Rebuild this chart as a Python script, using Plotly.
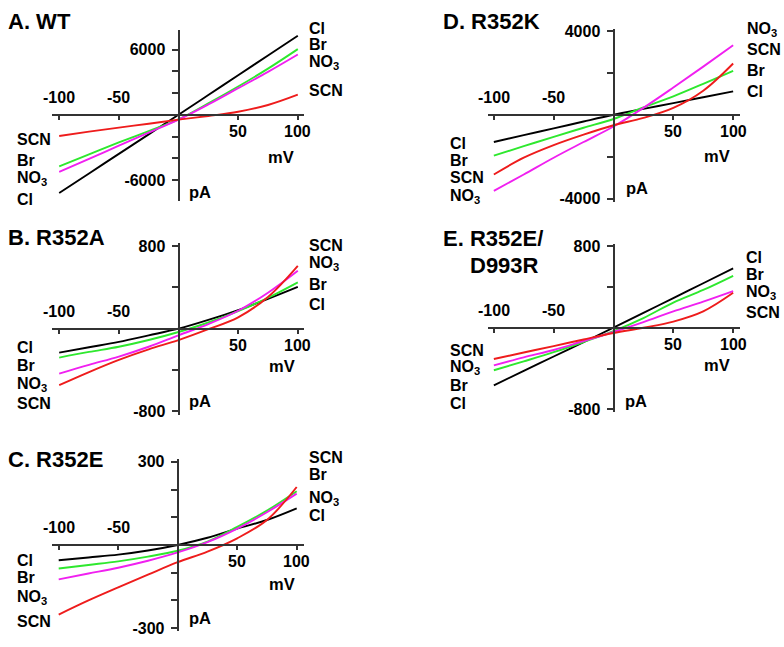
import plotly.graph_objects as go

W, H = 784, 647

# ---------------- data ----------------
voltage_mV = [-100, -75, -50, -25, 0, 25, 50, 75, 100]
ions = ["Cl", "Br", "NO3", "SCN"]

wt_Cl = [-7200, -5400, -3600, -1800, 0, 1820, 3640, 5460, 7280]
wt_Br = [-4750, -3650, -2550, -1500, -420, 1050, 2600, 4250, 6050]
wt_NO3 = [-5250, -4050, -2850, -1650, -450, 950, 2450, 3950, 5550]
wt_SCN = [-1950, -1550, -1180, -820, -450, -110, 280, 900, 1850]

r352a_Cl = [-232, -180, -128, -65, 0, 85, 181, 290, 406]
r352a_Br = [-280, -225, -175, -110, -32, 60, 171, 300, 450]
r352a_NO3 = [-435, -350, -270, -175, -64, 45, 174, 349, 562]
r352a_SCN = [-547, -420, -302, -200, -111, -5, 110, 308, 610]

r352e_Cl = [-55, -45, -35, -20, 0, 26, 59, 90, 132]
r352e_Br = [-85, -72, -59, -42, -21, 12, 65, 124, 194]
r352e_NO3 = [-124, -103, -82, -57, -27, 10, 59, 118, 185]
r352e_SCN = [-251, -200, -153, -107, -62, -24, 24, 90, 209]

r352k_Cl = [-1300, -970, -650, -320, 0, 280, 560, 840, 1120]
r352k_Br = [-1950, -1500, -1050, -620, -200, 350, 880, 1480, 2100]
r352k_NO3 = [-3630, -2850, -2050, -1300, -560, 330, 1300, 2300, 3320]
r352k_SCN = [-2850, -2050, -1450, -950, -500, -150, 330, 1150, 2450]

r352e_d993r_Cl = [-564, -423, -282, -141, 0, 145, 291, 436, 582]
r352e_d993r_Br = [-417, -330, -240, -140, -33, 95, 246, 370, 509]
r352e_d993r_NO3 = [-369, -290, -218, -130, -42, 55, 160, 255, 358]
r352e_d993r_SCN = [-307, -243, -180, -115, -52, 0, 60, 160, 342]

x_tick_vals = [-100, -50, 50, 100]
panel_titles = ["A. WT", "B. R352A", "C. R352E", "D. R352K", "E. R352E/", "D993R"]

# ---------------- styling ----------------
colors = {"Cl": "#000000", "Br": "#2ee82e", "NO3": "#f020f0", "SCN": "#ee1c1c"}
label_text = {"Cl": "Cl", "Br": "Br", "NO3": "NO<sub>3</sub>", "SCN": "SCN"}
FONT = "Arial, Liberation Sans, sans-serif"
AX = "#333333"

panels = [
    dict(name="A", data=dict(Cl=wt_Cl, Br=wt_Br, NO3=wt_NO3, SCN=wt_SCN),
         x0=178.5, y0=110, sx=1.193, sy=66.5 / 6000, xl=52, xr=304, yt=23, yb=198,
         dtick=2000, lab=6000,
         right=[("Cl", 21.7), ("Br", 38.3), ("NO3", 56.5), ("SCN", 85)], rx=306.7,
         left=[("SCN", 135), ("Br", 156.7), ("NO3", 175.5), ("Cl", 196)], lx=15,
         mv=(280.8, 152.7), pa=(200.3, 188.3)),
    dict(name="B", data=dict(Cl=r352a_Cl, Br=r352a_Br, NO3=r352a_NO3, SCN=r352a_SCN),
         x0=178.5, y0=328.3, sx=1.193, sy=84.2 / 800, xl=52, xr=304, yt=240.7, yb=416.7,
         dtick=400, lab=800,
         right=[("SCN", 243.3), ("NO3", 261.5), ("Br", 283.3), ("Cl", 303.3)], rx=306.7,
         left=[("Cl", 347.7), ("Br", 365.7), ("NO3", 385.5), ("SCN", 405)], lx=15,
         mv=(281.7, 366.7), pa=(200, 401.7)),
    dict(name="C", data=dict(Cl=r352e_Cl, Br=r352e_Br, NO3=r352e_NO3, SCN=r352e_SCN),
         x0=177.7, y0=549, sx=1.19, sy=28.3 / 100, xl=51.7, xr=304, yt=461.7, yb=636.7,
         dtick=100, lab=300,
         right=[("SCN", 459.3), ("Br", 476.7), ("NO3", 501.5), ("Cl", 519.3)], rx=306.7,
         left=[("Cl", 565), ("Br", 582.3), ("NO3", 603), ("SCN", 626.7)], lx=15,
         mv=(281.7, 589.3), pa=(200, 623.3)),
    dict(name="D", data=dict(Cl=r352k_Cl, Br=r352k_Br, NO3=r352k_NO3, SCN=r352k_SCN),
         x0=613.5, y0=110, sx=1.1965, sy=85.5 / 4000, xl=488, xr=740.3, yt=22.7, yb=199,
         dtick=2000, lab=4000,
         right=[("NO3", 23), ("SCN", 43.3), ("Br", 65), ("Cl", 86)], rx=745.3,
         left=[("Cl", 139.3), ("Br", 156.7), ("SCN", 174), ("NO3", 193)], lx=448,
         mv=(717.3, 151.7), pa=(636.7, 185)),
    dict(name="E", data=dict(Cl=r352e_d993r_Cl, Br=r352e_d993r_Br, NO3=r352e_d993r_NO3, SCN=r352e_d993r_SCN),
         x0=613.5, y0=327.3, sx=1.1965, sy=83.3 / 800, xl=488, xr=740.3, yt=241.7, yb=413.3,
         dtick=400, lab=800,
         right=[("Cl", 255.5), ("Br", 273), ("NO3", 291), ("SCN", 311.5)], rx=743.7,
         left=[("SCN", 350.7), ("NO3", 368), ("Br", 386), ("Cl", 405)], lx=448,
         mv=(717, 365.7), pa=(636, 401.7)),
]

TF = 16  # text font size


def px(x):
    return x / W


def py(y):
    return 1 - y / H


fig = go.Figure()
annotations = []
layout_axes = {}

for i, p in enumerate(panels):
    k = "" if i == 0 else str(i + 1)
    xr_ = [(p["xl"] - p["x0"]) / p["sx"], (p["xr"] - p["x0"]) / p["sx"]]
    yr_ = [(p["y0"] - p["yb"]) / p["sy"], (p["y0"] - p["yt"]) / p["sy"]]
    xdom = [px(p["xl"]), px(p["xr"])]
    ydom = [py(p["yb"]), py(p["yt"])]
    xpos = ydom[0] + (0 - yr_[0]) / (yr_[1] - yr_[0]) * (ydom[1] - ydom[0])
    ypos = xdom[0] + (0 - xr_[0]) / (xr_[1] - xr_[0]) * (xdom[1] - xdom[0])

    for ion in ions:
        fig.add_trace(go.Scatter(
            x=voltage_mV, y=p["data"][ion], mode="lines",
            line=dict(color=colors[ion], width=1.9, shape="spline", smoothing=1.0),
            xaxis="x" + k, yaxis="y" + k, showlegend=False, name=ion))

    n_t = int(round(p["lab"] / p["dtick"]))
    yt_vals = [j * p["dtick"] for j in range(-n_t, n_t + 1)]
    yt_text = [str(v) if abs(v) == p["lab"] else "" for v in yt_vals]

    layout_axes["xaxis" + k] = dict(
        domain=xdom, range=xr_, anchor="free", position=xpos,
        showgrid=False, zeroline=False, showline=True, linecolor=AX, linewidth=2,
        tickvals=x_tick_vals, ticks="outside", ticklen=4, tickwidth=2, tickcolor=AX,
        showticklabels=False, fixedrange=True)
    layout_axes["yaxis" + k] = dict(
        domain=ydom, range=yr_, anchor="free", position=ypos,
        showgrid=False, zeroline=False, showline=True, linecolor=AX, linewidth=2,
        tickvals=yt_vals, ticktext=yt_text, ticks="outside", ticklen=6, tickwidth=2,
        tickcolor=AX, ticklabelstandoff=3,
        tickfont=dict(family=FONT, size=TF, color="#000", weight="bold"),
        fixedrange=True)

    # x tick labels: negatives above the axis, positives below
    for v in x_tick_vals:
        annotations.append(dict(
            xref="x" + k, yref="y" + k, x=v, y=0, yshift=17 if v < 0 else -17,
            text=str(v), showarrow=False, xanchor="center", yanchor="middle",
            font=dict(family=FONT, size=TF, color="#000", weight="bold")))

    for ion, yy in p["right"]:
        annotations.append(dict(
            xref="paper", yref="paper", x=px(p["rx"]), y=py(yy), text=label_text[ion],
            showarrow=False, xanchor="left", yanchor="middle",
            font=dict(family=FONT, size=TF, color="#000", weight="bold")))
    for ion, yy in p["left"]:
        annotations.append(dict(
            xref="paper", yref="paper", x=px(p["lx"]), y=py(yy), text=label_text[ion],
            showarrow=False, xanchor="left", yanchor="middle",
            font=dict(family=FONT, size=TF, color="#000", weight="bold")))
    for txt, (cx, cy) in (("mV", p["mv"]), ("pA", p["pa"])):
        annotations.append(dict(
            xref="paper", yref="paper", x=px(cx), y=py(cy), text=txt,
            showarrow=False, xanchor="center", yanchor="middle",
            font=dict(family=FONT, size=TF + 0.5, color="#000", weight="bold")))

title_pos = [(6, 15, "left"), (6, 235, "left"), (6, 461.7, "left"),
             (441.3, 15, "left"), (441.3, 236.7, "left"), (540.5, 263.3, "right")]
for t, (tx, ty, anc) in zip(panel_titles, title_pos):
    annotations.append(dict(
        xref="paper", yref="paper", x=px(tx), y=py(ty), text=t, showarrow=False,
        xanchor=anc, yanchor="middle",
        font=dict(family=FONT, size=22, color="#000", weight="bold")))

fig.update_layout(
    width=W, height=H, margin=dict(l=0, r=0, t=0, b=0),
    paper_bgcolor="white", plot_bgcolor="rgba(0,0,0,0)",
    annotations=annotations, showlegend=False, **layout_axes)

fig.write_html("out.html", config={"displayModeBar": False},
               post_script="document.body.style.margin='0';")
